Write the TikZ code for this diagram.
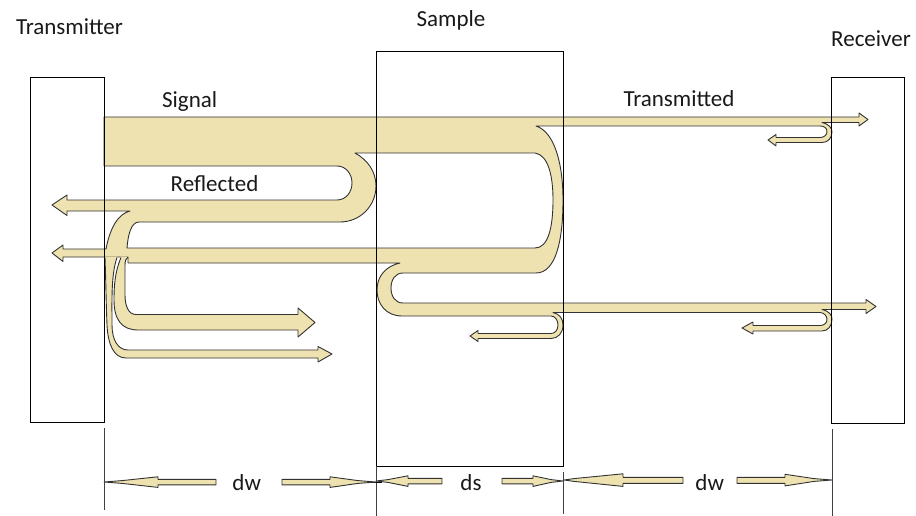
\documentclass[tikz,border=0pt]{standalone}
\usepackage{fontspec}
\setmainfont{Carlito}
\definecolor{bandfill}{RGB}{238,226,176}
\definecolor{bandline}{RGB}{50,50,50}
\tikzset{
  band/.style={fill=bandfill, draw=bandline, line width=0.9pt, line join=round},
  bandfillonly/.style={fill=bandfill},
  bandedge/.style={draw=bandline, line width=0.9pt, line join=round},
  boxline/.style={draw=black, line width=0.9pt},
  dimline/.style={draw=black!75, line width=0.9pt},
  lbl/.style={font=\fontsize{23}{26}\selectfont, anchor=base, inner sep=0pt, text=black!90},
}
\begin{document}
\begin{tikzpicture}[x=1pt,y=-1pt]
\useasboundingbox (0,0) rectangle (916,516);
% ---- main connected band (signal, transmitted, reflected, multiple reflections)
\path[band, even odd rule]
 (104,117) -- (859,117) -- (859,113) -- (868,119.5) -- (859,126) -- (859,122.5) -- (822,122.5)
 .. controls (829,124) and (832,128) .. (832,132) .. controls (832,138) and (828,142.5) .. (822,142.5)
 -- (776,142.5) -- (776,146) -- (768,140) -- (776,134.5) -- (776,137.5) -- (820,137.5)
 .. controls (824,137.5) and (827,135) .. (827,131.5) .. controls (827,128) and (824,126) .. (820,126)
 -- (536,126)
 .. controls (555,132) and (563,165) .. (563,200) .. controls (563,240) and (556,273) .. (536,273)
 -- (403,273)
 .. controls (395,273) and (391,280) .. (391,288) .. controls (391,296) and (395,303) .. (403,303)
 -- (866,303) -- (866,299.5) -- (876,306.5) -- (866,313.5) -- (866,309.5) -- (822,309.5)
 .. controls (829,311) and (832,315) .. (832,319) .. controls (832,326) and (828,331) .. (822,331)
 -- (753,331) -- (753,334) -- (742,328) -- (753,322) -- (753,325.5) -- (820,325.5)
 .. controls (824,325.5) and (827,323) .. (827,319.5) .. controls (827,316) and (824,312.5) .. (820,312.5)
 -- (553,312.5)
 .. controls (560,314) and (563,319) .. (563,325) .. controls (563,333) and (558,338.5) .. (551,338.5)
 -- (478,338.5) -- (478,341.5) -- (470,336) -- (478,330.5) -- (478,333.5) -- (551,333.5)
 .. controls (555,333.5) and (558,330) .. (558,325) .. controls (558,320) and (555,316) .. (551,316)
 -- (402,316)
 .. controls (386,316) and (377,304) .. (377,290) .. controls (377,276) and (386,266) .. (400,263)
 -- (128,263) -- (128,257) -- (63,257) -- (63,261.5) -- (52,253) -- (63,245) -- (63,249) -- (106,249)
 .. controls (110,228) and (118,214) .. (130,211)
 -- (67,211) -- (67,215.5) -- (52,205) -- (67,195) -- (67,200) -- (337,200)
 .. controls (346,200) and (352,192) .. (352,183) .. controls (352,174) and (346,166) .. (337,166)
 -- (104,166) -- cycle
 (355,153) -- (535,153)
 .. controls (548,155) and (553,175) .. (553,200) .. controls (553,228) and (548,248) .. (535,248)
 -- (127,248) .. controls (128,235) and (131,222) .. (139,222) -- (340,222)
 .. controls (360,222) and (376,206) .. (376,186) .. controls (376,172) and (368,160) .. (355,153) -- cycle;
% ---- curls near the transmitter (fill, then open outlines)
\path[bandfillonly] (105,256.5) -- (105,258) .. controls (106,285) and (106,300) .. (107,325)
 .. controls (108,345) and (114,358) .. (126,358) -- (318,358) -- (318,362) -- (332,354)
 -- (318,346.5) -- (318,350) -- (128,350) .. controls (118,350) and (112,340) .. (112,325)
 .. controls (112,300) and (111,275) .. (117,258) -- (117,256.5) -- cycle;
\path[bandedge] (105,257.5) .. controls (106,285) and (106,300) .. (107,325)
 .. controls (108,345) and (114,358) .. (126,358) -- (318,358) -- (318,362) -- (332,354)
 -- (318,346.5) -- (318,350) -- (128,350) .. controls (118,350) and (112,340) .. (112,325)
 .. controls (112,300) and (111,275) .. (117,257.5);
\path[bandfillonly] (120,256.5) -- (121,258) .. controls (115,272) and (114,285) .. (114,300)
 .. controls (114,320) and (122,330) .. (138,330) -- (298,330) -- (298,337) -- (315,322.5)
 -- (298,308) -- (298,314.5) -- (136,314.5) .. controls (128,314.5) and (125,305) .. (125,295)
 -- (125,265) .. controls (125,261) and (126,258) .. (128,257) -- (128,256.5) -- cycle;
\path[bandedge] (121,257.5) .. controls (115,272) and (114,285) .. (114,300)
 .. controls (114,320) and (122,330) .. (138,330) -- (298,330) -- (298,337) -- (315,322.5)
 -- (298,308) -- (298,314.5) -- (136,314.5) .. controls (128,314.5) and (125,305) .. (125,295)
 -- (125,265) .. controls (125,261) and (126,258) .. (128,257);
% ---- boxes
\draw[boxline] (30,77) rectangle (104,422);
\draw[boxline] (376,51) rectangle (563,466);
\draw[boxline] (831,77) rectangle (904,423);
% ---- dimension lines
\draw[dimline] (104,428) -- (104,510);
\draw[dimline] (376,466) -- (376,516);
\draw[dimline] (563,472) -- (563,514);
\draw[dimline] (832,429) -- (832,516);
\draw[black, line width=0.9pt] (367,482) -- (382,482);
\path[band] (216,479.3) -- (158,479.3) -- (158,476.8) -- (122,480.6) -- (104,482) -- (122,483.4) -- (158,487.4) -- (158,484.9) -- (216,484.9) -- cycle;
\path[band] (282,479.3) -- (330,479.3) -- (330,476.8) -- (358,480.6) -- (376,482) -- (358,483.4) -- (330,487.4) -- (330,484.9) -- (282,484.9) -- cycle;
\path[band] (442,478.3) -- (408,478.3) -- (408,475.8) -- (388,479.6) -- (376,481) -- (388,482.4) -- (408,486.4) -- (408,483.9) -- (442,483.9) -- cycle;
\path[band] (502,478.3) -- (533,478.3) -- (533,475.8) -- (551,479.6) -- (563,481) -- (551,482.4) -- (533,486.4) -- (533,483.9) -- (502,483.9) -- cycle;
\path[band] (683,477.3) -- (623,477.3) -- (623,473.8) -- (574,478.6) -- (564,480) -- (574,481.4) -- (623,486.4) -- (623,483.4) -- (683,483.4) -- cycle;
\path[band] (737,477.3) -- (785,477.3) -- (785,474.3) -- (814,478.6) -- (832,480) -- (814,481.4) -- (785,485.9) -- (785,483.4) -- (737,483.4) -- cycle;
% ---- labels
\node[lbl] (ttx) at (69.5,35) {Transmitter};
\node[lbl] (tsa) at (451,27) {Sample};
\node[lbl] (trx) at (871,47) {Receiver};
\node[lbl] (tsig) at (189.7,107.7) {Signal};
\node[lbl] (tref) at (214.5,191.7) {Reflected};
\node[lbl] (ttr) at (679,106.7) {Transmitted};
\node[lbl] (tdw1) at (246.7,490.7) {dw};
\node[lbl] (tds) at (471,490.7) {ds};
\node[lbl] (tdw2) at (709.7,490.7) {dw};
\end{tikzpicture}
\end{document}
